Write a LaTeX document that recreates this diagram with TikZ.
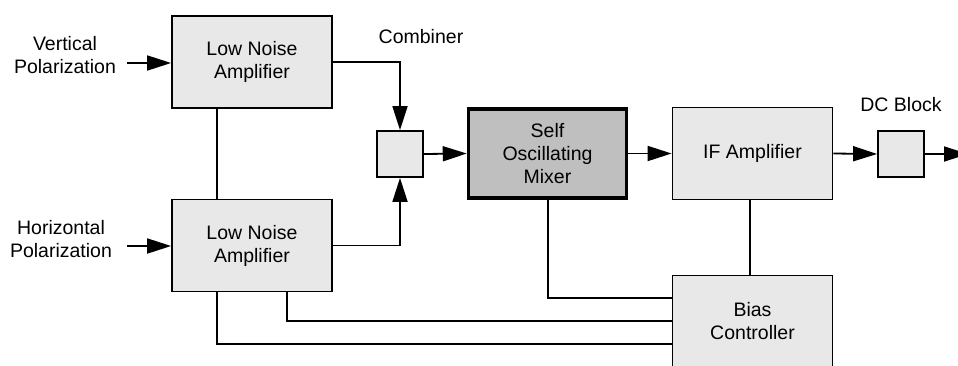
\documentclass[tikz,border=0pt]{standalone}
\usepackage{fontspec}
\setmainfont{Liberation Sans}
\usetikzlibrary{arrows.meta}
\definecolor{boxfill}{gray}{0.91}
\definecolor{mixfill}{gray}{0.75}
\begin{document}
\begin{tikzpicture}[x=1pt,y=-1pt,
  font=\fontsize{19.5}{23}\selectfont,
  block/.style={draw, fill=boxfill, line width=1.8pt, minimum width=160pt,
    minimum height=92pt, align=center, inner sep=0pt},
  smallbox/.style={draw, fill=boxfill, line width=1.8pt, minimum size=46pt, inner sep=0pt},
  lbl/.style={align=center, inner sep=0pt},
  wire/.style={line width=1.8pt},
  sig/.style={wire, -{Triangle[length=24pt,width=15pt]}}]
\useasboundingbox (0,0) rectangle (958,365);
\clip (0,0) rectangle (958,365);

% blocks
\node[block] (lnaV) at (252,62) {Low Noise\\Amplifier};
\node[block] (lnaH) at (252,245.5) {Low Noise\\Amplifier};
\node[smallbox] (comb) at (400,154) {};
\node[block, fill=mixfill, line width=3.5pt, minimum width=158pt, minimum height=89pt]
  (mixer) at (547.5,153.5) {Self\\Oscillating\\Mixer};
\node[block] (ifamp) at (752.5,153.5) {IF Amplifier};
\node[smallbox] (dcb) at (901,154) {};
\node[block] (bias) at (752.5,321.5) {Bias\\Controller};

% labels
\node[lbl] (vpol) at (65,55) {Vertical\\Polarization};
\node[lbl] (hpol) at (61,239) {Horizontal\\Polarization};
\node[lbl] (comblbl) at (421,37) {Combiner};
\node[lbl] (dclbl) at (901,105) {DC Block};

% signal path
\coordinate (vin) at (127,63);
\coordinate (hin) at (127,246);
\coordinate (out) at (968,154);
\draw[sig] (vin) -- (vin -| lnaV.west);
\draw[sig] (hin) -- (hin -| lnaH.west);
\draw[sig] (lnaV.east) -- (comb.north |- lnaV.east) -- (comb.north);
\draw[sig] (lnaH.east) -- (comb.south |- lnaH.east) -- (comb.south);
\draw[sig] (comb.east) -- (mixer.west);
\draw[sig] (mixer.east) -- (ifamp.west);
\draw[sig] (ifamp.east) -- (dcb.west);
\draw[sig] (dcb.east) -- (out);

% bias lines
\coordinate (c1) at (217,344);
\coordinate (c2) at (287,321);
\coordinate (c3) at (548,298);
\coordinate (c4) at (750,0);
\draw[wire] (c1 |- lnaV.south) -- (c1 |- lnaH.north);
\draw[wire] (c1 |- lnaH.south) -- (c1) -- (c1 -| bias.west);
\draw[wire] (c2 |- lnaH.south) -- (c2) -- (c2 -| bias.west);
\draw[wire] (c3 |- mixer.south) -- (c3) -- (c3 -| bias.west);
\draw[wire] (c4 |- ifamp.south) -- (c4 |- bias.north);
\end{tikzpicture}
\end{document}
